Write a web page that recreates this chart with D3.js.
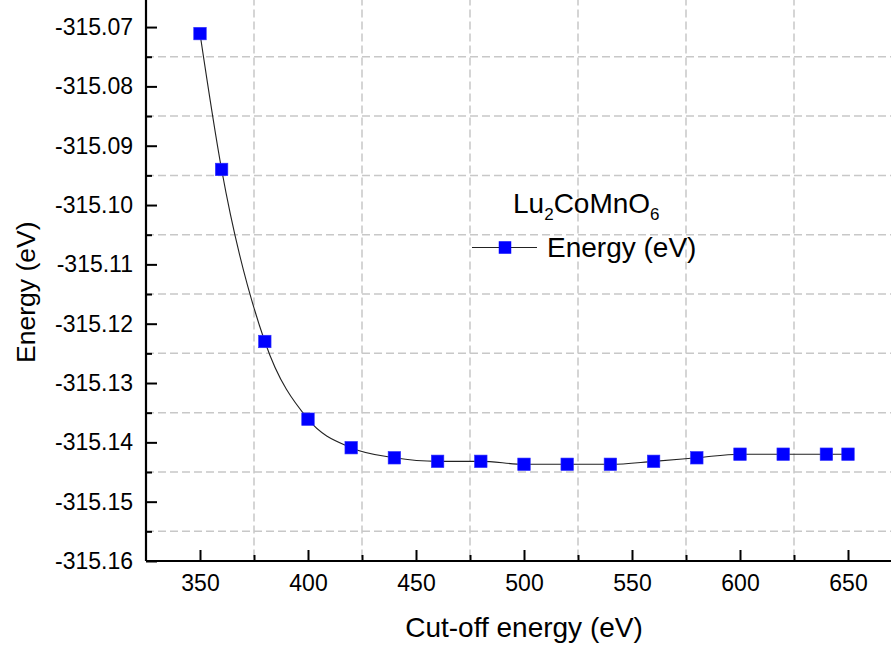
<!DOCTYPE html>
<html>
<head>
<meta charset="utf-8">
<script src="https://cdn.jsdelivr.net/npm/d3@7"></script>
<style>
  html, body { margin: 0; padding: 0; background: #fff; }
  svg { display: block; font-family: Arial, "Liberation Sans", sans-serif; }
</style>
</head>
<body>
<svg id="chart" width="891" height="654"></svg>
<script>
// ---- data ----
const cutoff = [350, 360, 380, 400, 420, 440, 460, 480, 500, 520, 540, 560, 580, 600, 620, 640, 650];
const energy = [-315.0711, -315.0940, -315.1230, -315.1361, -315.1409, -315.1426, -315.1432, -315.1432,
                -315.1437, -315.1437, -315.1437, -315.1432, -315.1426, -315.1420, -315.1420, -315.1420, -315.1420];
const xTicks = [350, 400, 450, 500, 550, 600, 650];
const yTicks = [-315.07, -315.08, -315.09, -315.10, -315.11, -315.12, -315.13, -315.14, -315.15, -315.16];
const xMinor = [375, 425, 475, 525, 575, 625, 675];
const yMinor = [-315.065, -315.075, -315.085, -315.095, -315.105, -315.115, -315.125, -315.135, -315.145, -315.155];
const seriesName = "Energy (eV)";
const xTitle = "Cut-off energy (eV)";
const yTitle = "Energy (eV)";

// ---- layout ----
const svg = d3.select("#chart");
const pLeft = 146, pRight = 902, pTop = -2.6, pBottom = 561;
const x = d3.scaleLinear().domain([325, 675]).range([pLeft, pRight]);
const y = d3.scaleLinear().domain([-315.16, -315.065]).range([pBottom, pTop]);

// grid
const grid = svg.append("g").attr("stroke", "#c8c8c8").attr("stroke-width", 1.5)
  .attr("stroke-dasharray", "8,4").attr("fill", "none");
grid.selectAll("line.v").data(xMinor).join("line").attr("class", "v")
  .attr("x1", d => x(d)).attr("x2", d => x(d)).attr("y1", pTop).attr("y2", pBottom);
grid.selectAll("line.h").data(yMinor).join("line").attr("class", "h")
  .attr("x1", pLeft).attr("x2", pRight).attr("y1", d => y(d)).attr("y2", d => y(d));

// axes
const fmtY = d => d3.format(".2f")(d).replace("\u2212", "-");
const xAxis = svg.append("g").attr("transform", `translate(0,${pBottom})`)
  .call(d3.axisBottom(x).tickValues(xTicks).tickSize(-11).tickPadding(14).tickFormat(d3.format("d")));
const xAxisMinor = svg.append("g").attr("transform", `translate(0,${pBottom})`)
  .call(d3.axisBottom(x).tickValues(xMinor).tickSize(-6).tickFormat(""));
const yAxis = svg.append("g").attr("transform", `translate(${pLeft},0)`)
  .call(d3.axisLeft(y).tickValues(yTicks).tickSize(-11).tickPadding(13).tickFormat(fmtY));
const yAxisMinor = svg.append("g").attr("transform", `translate(${pLeft},0)`)
  .call(d3.axisLeft(y).tickValues(yMinor).tickSize(-6).tickFormat(""));

[xAxis, xAxisMinor, yAxis, yAxisMinor].forEach(g => {
  g.select(".domain").attr("stroke", "#000").attr("stroke-width", 2.2);
  g.selectAll(".tick line").attr("stroke", "#000").attr("stroke-width", 2);
  g.selectAll(".tick text").attr("fill", "#000").attr("font-size", 23)
    .attr("font-family", "Arial, 'Liberation Sans', sans-serif");
});
xAxis.select(".domain").attr("d", `M${pLeft},0H${pRight}`);
yAxis.select(".domain").attr("d", `M0,${pBottom}V${pTop}`);
xAxisMinor.select(".domain").remove();
yAxisMinor.select(".domain").remove();

// axis titles
svg.append("text").attr("x", (pLeft + pRight) / 2).attr("y", 637)
  .attr("text-anchor", "middle").attr("font-size", 28).attr("fill", "#000").text(xTitle);
svg.append("text").attr("transform", `translate(35,${(pTop + pBottom) / 2 + 13}) rotate(-90)`)
  .attr("text-anchor", "middle").attr("font-size", 26.5).attr("fill", "#000").text(yTitle);

// data line + markers
const pts = cutoff.map((c, i) => ({ x: c, y: energy[i] }));
const line = d3.line().x(d => x(d.x)).y(d => y(d.y)).curve(d3.curveMonotoneX);
svg.append("path").datum(pts).attr("d", line).attr("fill", "none")
  .attr("stroke", "#222").attr("stroke-width", 1.1);
const ms = 12.5;
svg.selectAll("rect.pt").data(pts).join("rect").attr("class", "pt")
  .attr("x", d => x(d.x) - ms / 2).attr("y", d => y(d.y) - ms / 2)
  .attr("width", ms).attr("height", ms).attr("fill", "#0000ff")
  .attr("stroke", "#3030ff").attr("stroke-width", 0.6);

// legend
const lg = svg.append("g");
const tt = lg.append("text").attr("x", 513).attr("y", 213).attr("font-size", 28).attr("fill", "#000");
tt.append("tspan").text("Lu");
tt.append("tspan").attr("font-size", 17).attr("dy", 7).text("2");
tt.append("tspan").attr("dy", -7).text("CoMnO");
tt.append("tspan").attr("font-size", 17).attr("dy", 7).text("6");
lg.append("line").attr("x1", 472).attr("x2", 537).attr("y1", 247.5).attr("y2", 247.5)
  .attr("stroke", "#222").attr("stroke-width", 1.1);
lg.append("rect").attr("x", 505 - ms / 2).attr("y", 247.5 - ms / 2).attr("width", ms).attr("height", ms)
  .attr("fill", "#0000ff");
lg.append("text").attr("x", 547).attr("y", 257).attr("font-size", 28).attr("fill", "#000").text(seriesName);
</script>
</body>
</html>
